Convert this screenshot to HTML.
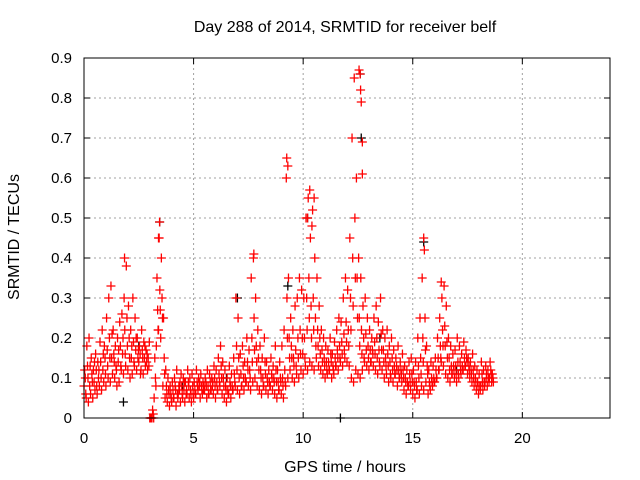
<!DOCTYPE html>
<html><head><meta charset="utf-8"><style>
html,body{margin:0;padding:0;background:#fff}
svg{display:block;font-family:"Liberation Sans",sans-serif}
</style></head><body>
<svg id="chart" width="640" height="480" viewBox="0 0 640 480" xmlns="http://www.w3.org/2000/svg">
<rect width="640" height="480" fill="#fff"/>
<text x="345" y="32" font-size="16" text-anchor="middle">Day 288 of 2014, SRMTID for receiver belf</text>
<text x="345" y="472" font-size="16" text-anchor="middle">GPS time / hours</text>
<text transform="translate(19,237) rotate(-90)" font-size="16" text-anchor="middle">SRMTID / TECUs</text>
<g id="grid"></g><g id="ticks"></g><g id="marks"></g>
<rect x="84" y="58" width="526" height="360" fill="none" stroke="#000" stroke-width="1"/>
</svg>
<script>
const xTicks=[0,5,10,15,20];
const yTicks=[0,0.1,0.2,0.3,0.4,0.5,0.6,0.7,0.8,0.9];
const yTickLabels=["0","0.1","0.2","0.3","0.4","0.5","0.6","0.7","0.8","0.9"];
const tStart=0, tStep=0.1;
const redA=[0.08,0.05,0.04,0.06,0.05,0.07,0.06,0.08,0.07,0.09,
0.08,0.10,0.09,0.11,0.10,0.08,0.09,0.12,0.11,0.13,
0.12,0.10,0.11,0.13,0.12,0.14,0.12,0.11,0.13,0.12,
0.00,0.00,0.05,0.18,0.22,0.20,0.08,0.05,0.04,0.03,
0.04,0.05,0.03,0.06,0.04,0.05,0.04,0.06,0.05,0.04,
0.05,0.06,0.07,0.05,0.06,0.07,0.05,0.06,0.07,0.06,
0.05,0.07,0.08,0.06,0.05,0.04,0.06,0.05,0.07,0.08,
0.07,0.06,0.08,0.07,0.09,0.08,0.07,0.09,0.10,0.08,
0.07,0.06,0.08,0.07,0.06,0.08,0.07,0.06,0.05,0.07,
0.06,0.05,0.08,0.10,0.12,0.10,0.09,0.11,0.10,0.12,
0.11,0.13,0.12,0.14,0.13,0.12,0.15,0.13,0.12,0.11,
0.10,0.11,0.12,0.10,0.11,0.13,0.12,0.14,0.13,0.15,
0.14,0.13,0.10,0.09,0.12,0.11,0.10,0.12,0.14,0.13,
0.12,0.14,0.13,0.12,0.11,0.13,0.12,0.10,0.11,0.09,
0.10,0.09,0.11,0.08,0.10,0.09,0.07,0.06,0.08,0.07,
0.06,0.05,0.07,0.06,0.08,0.07,0.09,0.06,0.07,0.08,
0.09,0.10,0.12,0.14,0.13,0.11,0.10,0.09,0.11,0.10,
0.09,0.10,0.11,0.12,0.13,0.11,0.10,0.09,0.08,0.07,
0.06,0.08,0.07,0.09,0.08,0.10,0.09];
const redB=[0.12,0.18,0.20,0.15,0.12,0.16,0.14,0.19,0.22,0.18,
0.25,0.30,0.33,0.22,0.18,0.20,0.24,0.26,0.30,0.38,
0.28,0.22,0.30,0.25,0.20,0.18,0.22,0.19,0.17,0.15,
0.00,0.02,0.15,0.35,0.45,0.40,0.25,0.12,0.10,0.08,
0.09,0.10,0.12,0.08,0.11,0.10,0.09,0.12,0.10,0.11,
0.09,0.12,0.10,0.11,0.09,0.10,0.12,0.11,0.10,0.13,
0.12,0.15,0.18,0.14,0.12,0.10,0.13,0.11,0.15,0.30,
0.25,0.16,0.18,0.14,0.20,0.17,0.35,0.40,0.30,0.22,
0.18,0.15,0.20,0.14,0.12,0.15,0.13,0.18,0.12,0.14,
0.18,0.22,0.60,0.35,0.25,0.22,0.28,0.30,0.35,0.32,
0.30,0.50,0.55,0.45,0.52,0.40,0.35,0.28,0.22,0.20,
0.18,0.17,0.20,0.16,0.19,0.22,0.25,0.24,0.30,0.35,
0.32,0.45,0.70,0.85,0.60,0.40,0.35,0.28,0.30,0.25,
0.22,0.20,0.25,0.28,0.24,0.30,0.22,0.20,0.22,0.18,
0.20,0.17,0.15,0.18,0.14,0.16,0.13,0.12,0.14,0.15,
0.12,0.14,0.20,0.25,0.35,0.42,0.18,0.12,0.14,0.13,
0.15,0.20,0.25,0.30,0.33,0.28,0.20,0.18,0.16,0.17,
0.20,0.18,0.16,0.19,0.17,0.15,0.14,0.16,0.13,0.12,
0.11,0.14,0.12,0.13,0.12,0.14,0.11];
const redC=[0.10,0.13,0.08,0.11,0.09,0.12,0.10,0.14,0.12,0.15,
0.17,0.20,0.15,0.16,0.13,0.14,0.18,0.16,0.22,0.25,
0.20,0.15,0.19,0.17,0.15,0.16,0.17,0.15,0.14,0.13,
0.00,0.01,0.10,0.27,0.32,0.30,0.15,0.08,0.07,0.06,
0.07,0.08,0.06,0.07,0.08,0.07,0.06,0.09,0.07,0.08,
0.07,0.09,0.08,0.08,0.07,0.09,0.08,0.09,0.08,0.10,
0.09,0.11,0.13,0.10,0.08,0.07,0.09,0.08,0.11,0.18,
0.15,0.11,0.13,0.10,0.14,0.12,0.20,0.25,0.18,0.15,
0.12,0.10,0.14,0.10,0.09,0.11,0.10,0.12,0.09,0.10,
0.10,0.12,0.30,0.20,0.18,0.15,0.17,0.20,0.22,0.20,
0.20,0.30,0.35,0.28,0.30,0.25,0.22,0.20,0.17,0.15,
0.14,0.14,0.16,0.13,0.15,0.17,0.18,0.19,0.21,0.24,
0.22,0.30,0.40,0.50,0.35,0.25,0.22,0.20,0.21,0.18,
0.17,0.17,0.19,0.20,0.17,0.21,0.17,0.15,0.16,0.14,
0.15,0.13,0.13,0.12,0.12,0.12,0.10,0.09,0.11,0.11,
0.09,0.09,0.13,0.15,0.20,0.25,0.13,0.09,0.10,0.10,
0.12,0.15,0.18,0.22,0.23,0.19,0.15,0.13,0.13,0.13,
0.14,0.14,0.13,0.15,0.15,0.13,0.12,0.12,0.10,0.09,
0.08,0.11,0.09,0.11,0.10,0.12,0.10];
const redD=[0.06,0.10,0.13,0.09,0.14,0.08,0.12,0.10,0.16,0.11,
0.13,0.15,0.21,0.14,0.12,0.17,0.13,0.20,0.16,0.18,
0.15,0.18,0.14,0.20,0.17,0.11,0.15,0.18,0.16,0.19,
0.00,0.00,0.08,0.22,0.27,0.25,0.11,0.06,0.06,0.05,
0.05,0.07,0.05,0.09,0.06,0.09,0.07,0.08,0.06,0.06,
0.06,0.08,0.09,0.07,0.08,0.08,0.06,0.07,0.09,0.08,
0.07,0.09,0.10,0.08,0.07,0.06,0.08,0.07,0.09,0.12,
0.10,0.08,0.10,0.09,0.12,0.10,0.14,0.17,0.14,0.12,
0.10,0.08,0.11,0.09,0.08,0.10,0.09,0.09,0.07,0.09,
0.08,0.09,0.20,0.15,0.15,0.13,0.13,0.15,0.16,0.16,
0.15,0.22,0.25,0.20,0.22,0.18,0.18,0.16,0.14,0.13,
0.12,0.12,0.14,0.12,0.13,0.15,0.15,0.16,0.17,0.19,
0.18,0.22,0.28,0.35,0.25,0.18,0.16,0.15,0.17,0.15,
0.14,0.16,0.16,0.15,0.14,0.17,0.14,0.13,0.13,0.11,
0.12,0.11,0.12,0.10,0.11,0.10,0.09,0.08,0.09,0.09,
0.08,0.07,0.10,0.11,0.14,0.17,0.11,0.08,0.09,0.09,
0.10,0.12,0.15,0.18,0.18,0.15,0.12,0.11,0.12,0.11,
0.11,0.12,0.12,0.13,0.14,0.12,0.11,0.10,0.09,0.08,
0.07,0.09,0.08,0.10,0.09,0.11,0.09];
const spikeT=[3.4,3.45,9.25,9.3,10.3,10.4,10.5,12.55,12.6,12.62,12.65,12.7,15.5,1.85,7.75,16.3,12.7,10.2];
const spikeV=[0.45,0.49,0.65,0.63,0.57,0.48,0.55,0.87,0.86,0.82,0.79,0.69,0.45,0.40,0.41,0.34,0.61,0.50];
const blackT=[3.45,10.2,12.6,12.65,15.5,9.3,7.0,11.7,1.8,4.5,6.5,13.5,17.0,2.5];
const blackV=[0.49,0.50,0.86,0.70,0.44,0.33,0.30,0.00,0.04,0.08,0.10,0.20,0.12,0.18];

const NS='http://www.w3.org/2000/svg';
const X=t=>84+t*(526/24);
const Y=v=>418-v*400;
function mk(tag,attrs,parent){const e=document.createElementNS(NS,tag);for(const k in attrs)e.setAttribute(k,attrs[k]);parent.appendChild(e);return e;}
const grid=document.getElementById('grid'),ticks=document.getElementById('ticks'),marks=document.getElementById('marks');
xTicks.forEach(t=>{
  const x=X(t);
  if(t>0){const g=mk('line',{x1:x,y1:58,x2:x,y2:418,stroke:'#a0a0a0','stroke-dasharray':'2,3'},grid);
  
  }
  mk('line',{x1:x,y1:418,x2:x,y2:412,stroke:'#000'},ticks);
  mk('line',{x1:x,y1:58,x2:x,y2:64,stroke:'#000'},ticks);
  const l=mk('text',{x:x,y:443,'font-size':15,'text-anchor':'middle'},ticks);l.textContent=t;
  
  
});
yTicks.forEach((v,i)=>{
  const y=Y(v);
  if(i>0&&i<yTicks.length-1){const g=mk('line',{x1:84,y1:y,x2:610,y2:y,stroke:'#a0a0a0','stroke-dasharray':'2,3'},grid);
  
  }
  mk('line',{x1:84,y1:y,x2:90,y2:y,stroke:'#000'},ticks);
  mk('line',{x1:610,y1:y,x2:604,y2:y,stroke:'#000'},ticks);
  const l=mk('text',{x:72,y:y+5,'font-size':15,'text-anchor':'end'},ticks);l.textContent=yTickLabels[i];
  
  
});
function plus(t,v,color,name){
  const x=X(t),y=Y(v);
  const p=mk('path',{d:`M${x-4.5},${y}h9M${x},${y-4.5}v9`,stroke:color,'stroke-width':1.3,fill:'none'},marks);
  
  
}
blackT.forEach((t,i)=>plus(t,blackV[i],'#000','black-point'));
redA.forEach((v,i)=>plus(tStart+i*tStep,v,'#f00','red-point'));
redB.forEach((v,i)=>plus(tStart+i*tStep+0.03,v,'#f00','red-point'));
redC.forEach((v,i)=>plus(tStart+i*tStep+0.06,v,'#f00','red-point'));
redD.forEach((v,i)=>plus(tStart+i*tStep+0.08,v,'#f00','red-point'));
spikeT.forEach((t,i)=>plus(t,spikeV[i],'#f00','red-spike-point'));
</script>
</body></html>
